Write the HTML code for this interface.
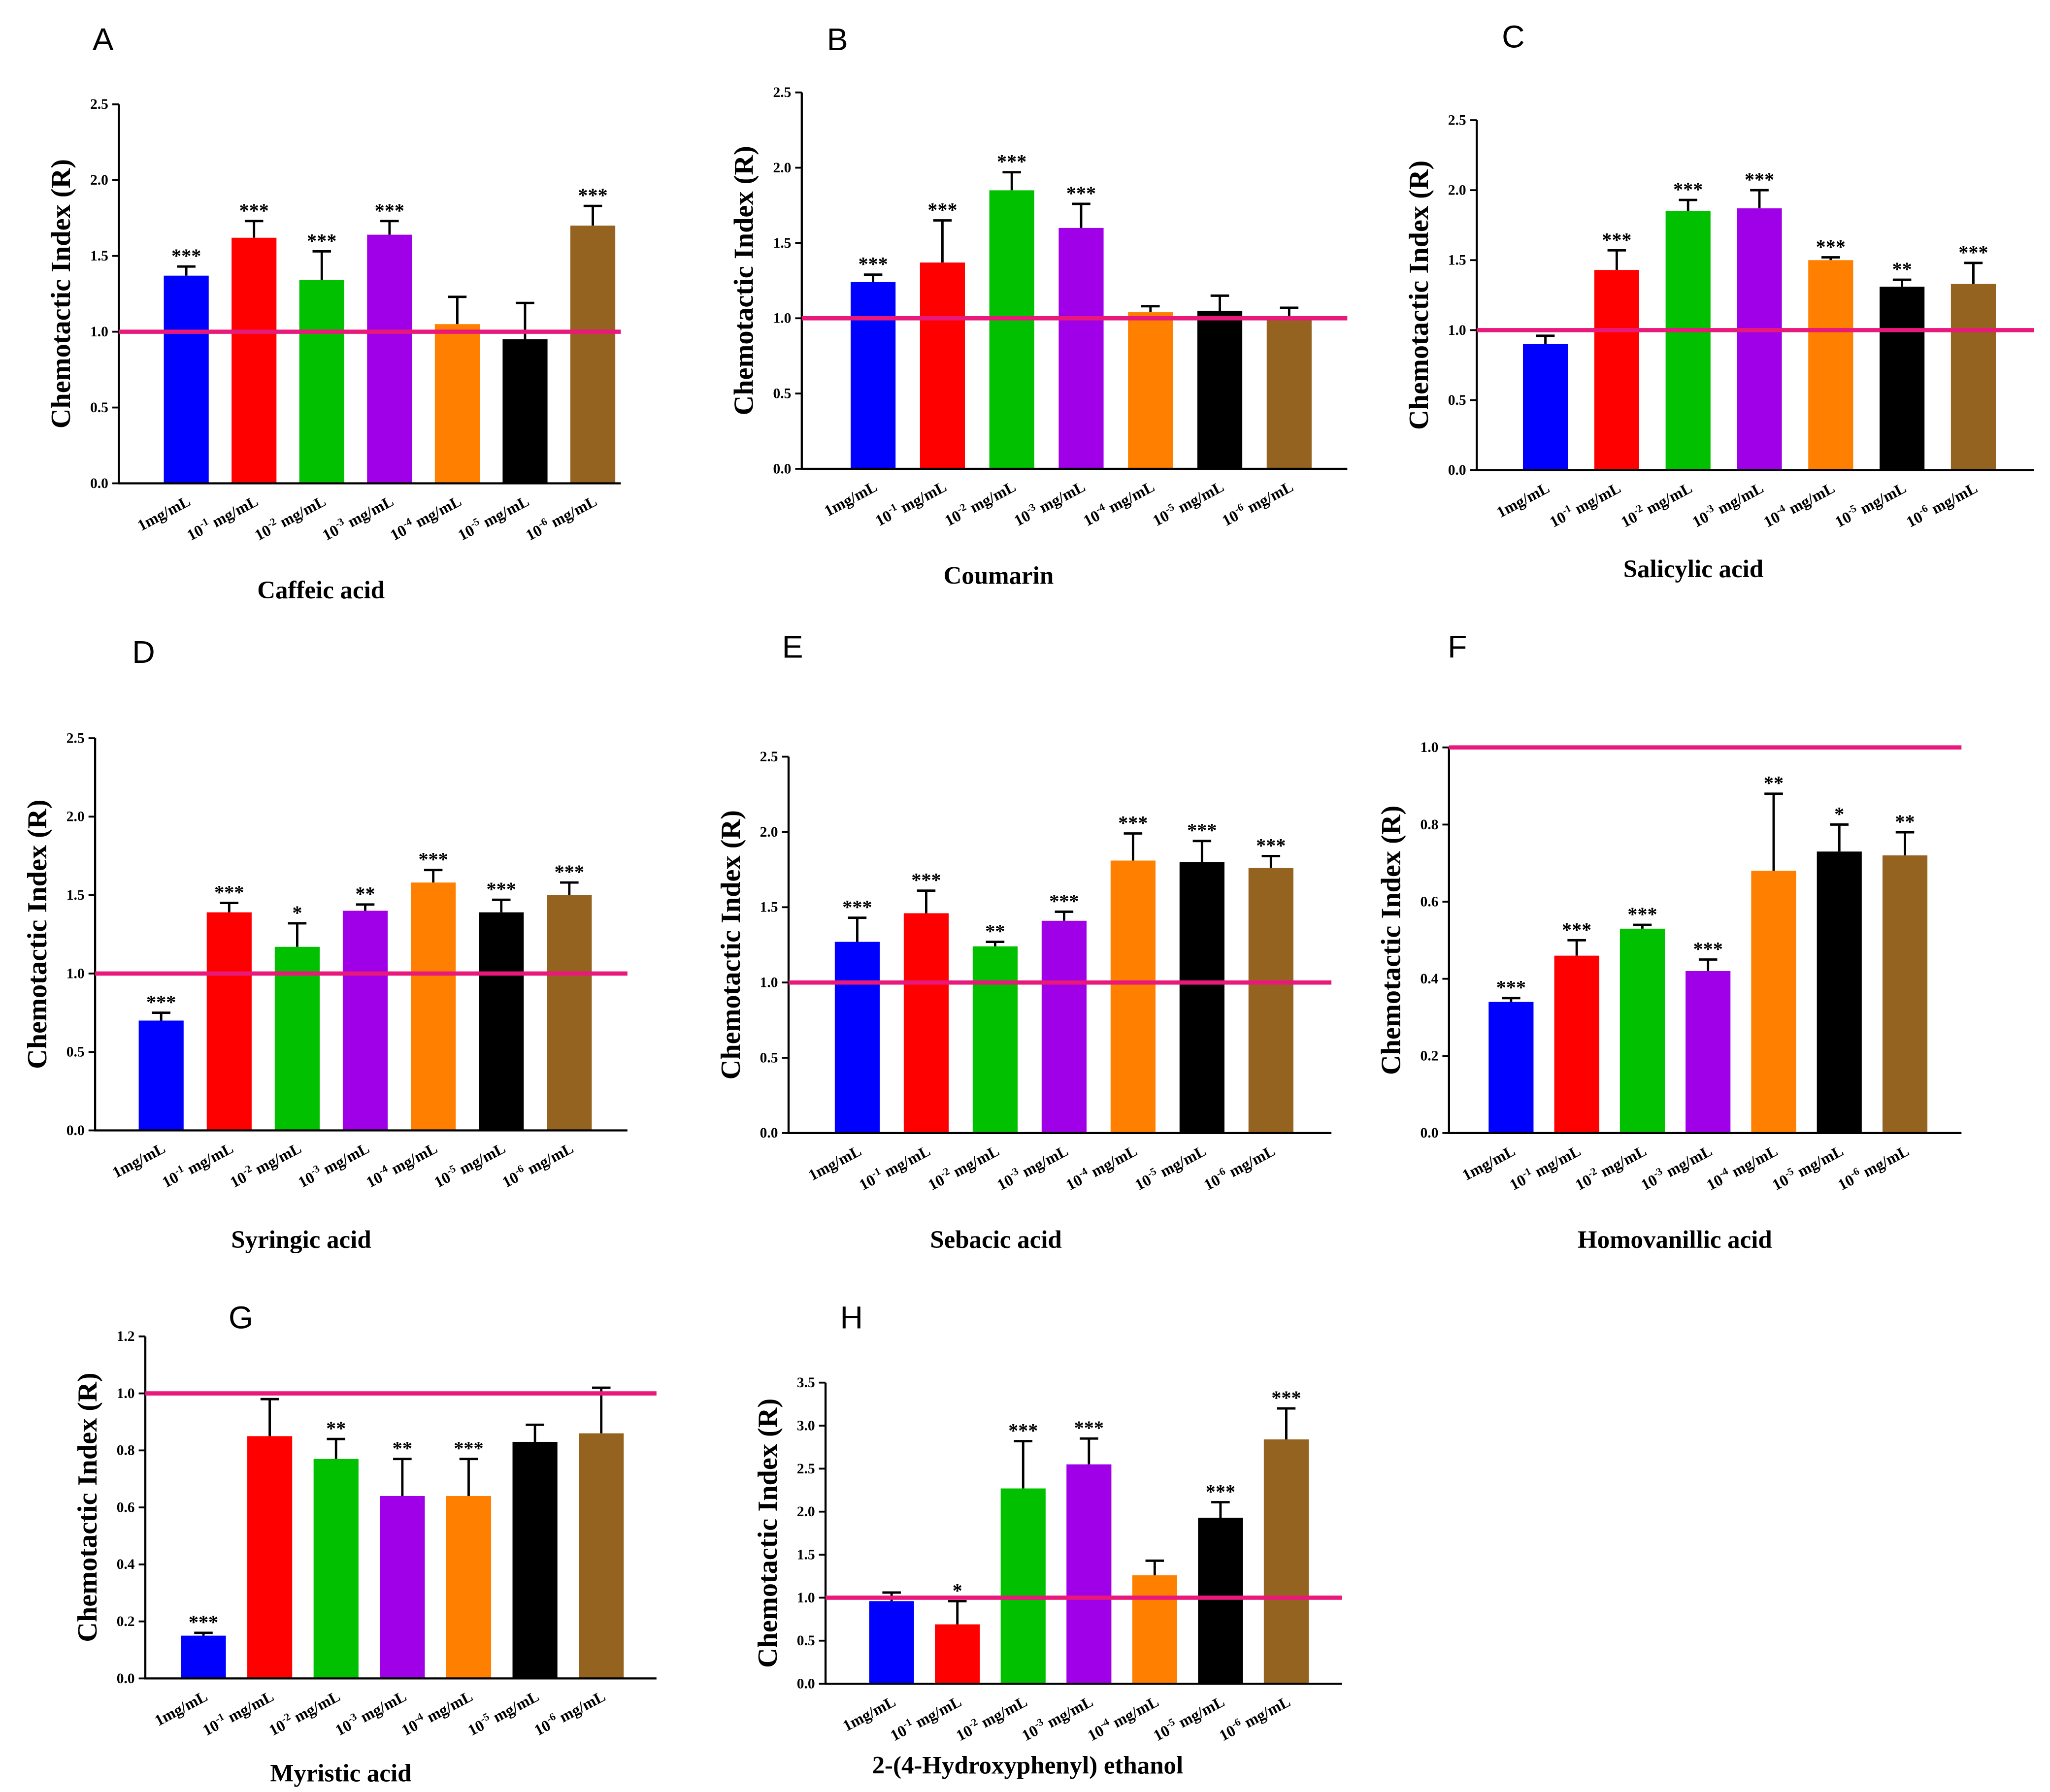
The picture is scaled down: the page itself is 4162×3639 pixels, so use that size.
<!DOCTYPE html>
<html><head><meta charset="utf-8"><style>
html,body{margin:0;padding:0;background:#fff;}
svg{display:block;}
text{font-family:"Liberation Serif",serif;font-weight:bold;}
.letter{font-family:"Liberation Sans",sans-serif;font-weight:normal;font-size:24px;}
</style></head><body>
<svg id="fig" width="4162" height="3639" viewBox="0 0 1552 1357" xmlns="http://www.w3.org/2000/svg"></svg>
<script>
const categories = ["1mg/mL","-1","-2","-3","-4","-5","-6"];
const colors = ["#0000ff","#ff0000","#00c000","#a000e8","#ff8000","#000000","#956320"];

const valuesA = [1.37,1.62,1.34,1.64,1.05,0.95,1.70];
const errorsA = [0.06,0.11,0.19,0.09,0.18,0.24,0.13];
const starsA = ["***","***","***","***","","","***"];
const valuesB = [1.24,1.37,1.85,1.60,1.04,1.05,1.01];
const errorsB = [0.05,0.28,0.12,0.16,0.04,0.10,0.06];
const starsB = ["***","***","***","***","","",""];
const valuesC = [0.90,1.43,1.85,1.87,1.50,1.31,1.33];
const errorsC = [0.06,0.14,0.08,0.13,0.02,0.05,0.15];
const starsC = ["","***","***","***","***","**","***"];
const valuesD = [0.70,1.39,1.17,1.40,1.58,1.39,1.50];
const errorsD = [0.05,0.06,0.15,0.04,0.08,0.08,0.08];
const starsD = ["***","***","*","**","***","***","***"];
const valuesE = [1.27,1.46,1.24,1.41,1.81,1.80,1.76];
const errorsE = [0.16,0.15,0.03,0.06,0.18,0.14,0.08];
const starsE = ["***","***","**","***","***","***","***"];
const valuesF = [0.34,0.46,0.53,0.42,0.68,0.73,0.72];
const errorsF = [0.01,0.04,0.01,0.03,0.20,0.07,0.06];
const starsF = ["***","***","***","***","**","*","**"];
const valuesG = [0.15,0.85,0.77,0.64,0.64,0.83,0.86];
const errorsG = [0.01,0.13,0.07,0.13,0.13,0.06,0.16];
const starsG = ["***","","**","**","***","",""];
const valuesH = [0.96,0.69,2.27,2.55,1.26,1.93,2.84];
const errorsH = [0.10,0.27,0.55,0.30,0.17,0.18,0.36];
const starsH = ["","*","***","***","","***","***"];
const ticks25 = ["0.0","0.5","1.0","1.5","2.0","2.5"];
const ticks10 = ["0.0","0.2","0.4","0.6","0.8","1.0"];
const ticks12 = ["0.0","0.2","0.4","0.6","0.8","1.0","1.2"];
const ticks35 = ["0.0","0.5","1.0","1.5","2.0","2.5","3.0","3.5"];

const NS="http://www.w3.org/2000/svg";
const svg=document.getElementById('fig');
function mk(tag,attrs,parent){const e=document.createElementNS(NS,tag);for(const k in attrs)e.setAttribute(k,attrs[k]);(parent||svg).appendChild(e);return e;}

const panels=[
 {id:"a",L:"A",lx:70,ly:38,ax:90,y0:366,ytop:79,ymax:2.5,ticks:ticks25,x0:124,step:51.3,xend:470,lineEnd:470,title:"Caffeic acid",tx:243,ty:453,vals:valuesA,errs:errorsA,stars:starsA},
 {id:"b",L:"B",lx:626,ly:38,ax:607,y0:355,ytop:70,ymax:2.5,ticks:ticks25,x0:644,step:52.5,xend:1020,lineEnd:1020,title:"Coumarin",tx:756,ty:442,vals:valuesB,errs:errorsB,stars:starsB},
 {id:"c",L:"C",lx:1137,ly:36,ax:1118,y0:356,ytop:91,ymax:2.5,ticks:ticks25,x0:1153,step:54,xend:1540,lineEnd:1540,title:"Salicylic acid",tx:1282,ty:437,vals:valuesC,errs:errorsC,stars:starsC},
 {id:"d",L:"D",lx:100,ly:502,ax:72,y0:856,ytop:559,ymax:2.5,ticks:ticks25,x0:105,step:51.5,xend:475,lineEnd:475,title:"Syringic acid",tx:228,ty:945,vals:valuesD,errs:errorsD,stars:starsD},
 {id:"e",L:"E",lx:592,ly:498,ax:597,y0:858,ytop:573,ymax:2.5,ticks:ticks25,x0:632,step:52.2,xend:1008,lineEnd:1008,title:"Sebacic acid",tx:754,ty:945,vals:valuesE,errs:errorsE,stars:starsE},
 {id:"f",L:"F",lx:1096,ly:498,ax:1097,y0:858,ytop:566,ymax:1.0,ticks:ticks10,x0:1127,step:49.7,xend:1485,lineEnd:1485,title:"Homovanillic acid",tx:1268,ty:945,vals:valuesF,errs:errorsF,stars:starsF},
 {id:"g",L:"G",lx:173,ly:1006,ax:110,y0:1271,ytop:1012,ymax:1.2,ticks:ticks12,x0:137,step:50.2,xend:497,lineEnd:497,title:"Myristic acid",tx:258,ty:1349,vals:valuesG,errs:errorsG,stars:starsG},
 {id:"h",L:"H",lx:636,ly:1006,ax:625,y0:1275,ytop:1047,ymax:3.5,ticks:ticks35,x0:658,step:49.8,xend:1016,lineEnd:1016,title:"2-(4-Hydroxyphenyl) ethanol",tx:778,ty:1343,vals:valuesH,errs:errorsH,stars:starsH}
];

panels.forEach(p=>{
 const g=mk('g',{});
 
 
 const yS=v=>p.y0-(v/p.ymax)*(p.y0-p.ytop);
 const xS=i=>p.x0+i*p.step+17;
 const bw=34;
 const lt=mk('text',{x:p.lx,y:p.ly,class:'letter'},g);lt.textContent=p.L;
 
 
 p.vals.forEach((v,i)=>{
  const cx=xS(i), top=yS(v), et=yS(v+p.errs[i]);
  const eb=mk('path',{d:`M${cx} ${top}V${et}M${cx-7} ${et}H${cx+7}`,stroke:'#000','stroke-width':1.8,fill:'none'},g);
  
  
  const r=mk('rect',{x:cx-bw/2,y:top,width:bw,height:p.y0-top,fill:colors[i]},g);
  
  
  if(p.stars[i]){const s=mk('text',{x:cx,y:et-3,'text-anchor':'middle','font-size':15},g);s.textContent=p.stars[i];
   
   }
  const lx=cx+4, ly=p.y0+16;
  const t=mk('text',{transform:`translate(${lx},${ly}) rotate(-28)`,'text-anchor':'end','font-size':12},g);
  
  
  if(i===0){t.textContent=categories[0];}
  else{const a=mk('tspan',{},t);a.textContent='10';const b=mk('tspan',{dy:-5,'font-size':8},t);b.textContent=categories[i];const c=mk('tspan',{dy:5},t);c.textContent=' mg/mL';}
 });
 const ax=mk('path',{d:`M${p.ax} ${p.ytop}V${p.y0}H${p.xend}`,stroke:'#000','stroke-width':1.6,fill:'none'},g);
 
 
 p.ticks.forEach((tl,k)=>{
  const y=yS(parseFloat(tl));
  mk('line',{x1:p.ax-5,x2:p.ax,y1:y,y2:y,stroke:'#000','stroke-width':1.4},g);
  const t=mk('text',{x:p.ax-8,y:y+3.5,'text-anchor':'end','font-size':11},g);t.textContent=tl;
  
  
 });
 const rl=mk('line',{x1:p.ax,x2:p.lineEnd,y1:yS(1),y2:yS(1),stroke:'#e8197a','stroke-width':3.2},g);
 
 
 const yc=(p.y0+p.ytop)/2;
 const yt=mk('text',{transform:`translate(${p.ax-37},${yc}) rotate(-90)`,'text-anchor':'middle','font-size':21,'xml:space':'preserve'},g);
 yt.textContent='Chemotactic Index  (R)';
 
 
 const tt=mk('text',{x:p.tx,y:p.ty,'text-anchor':'middle','font-size':19},g);tt.textContent=p.title;
 
 
});
</script>
</body></html>
